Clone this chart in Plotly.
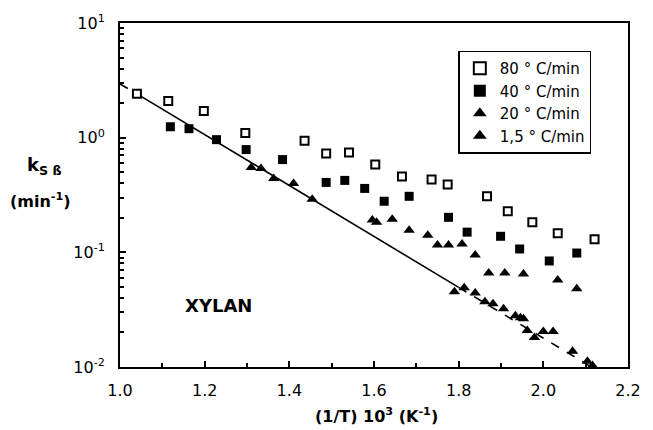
import plotly.graph_objects as go

# ---- data ----
x_80 = [1.040, 1.114, 1.198, 1.296, 1.436, 1.487, 1.541, 1.603, 1.666, 1.736, 1.774, 1.867, 1.916, 1.974, 2.034, 2.121]
k_80 = [2.41, 2.09, 1.71, 1.10, 0.94, 0.726, 0.741, 0.583, 0.459, 0.432, 0.391, 0.308, 0.228, 0.183, 0.147, 0.130]

x_40 = [1.119, 1.163, 1.228, 1.298, 1.384, 1.487, 1.531, 1.578, 1.624, 1.683, 1.776, 1.820, 1.899, 1.944, 2.014, 2.079]
k_40 = [1.245, 1.197, 0.961, 0.787, 0.644, 0.407, 0.424, 0.361, 0.279, 0.308, 0.202, 0.150, 0.138, 0.107, 0.0841, 0.0986]

x_20 = [1.310, 1.333, 1.363, 1.410, 1.454, 1.596, 1.606, 1.643, 1.683, 1.727, 1.750, 1.776, 1.808, 1.839, 1.871, 1.909, 1.953, 2.034, 2.079]
k_20 = [0.549, 0.538, 0.441, 0.399, 0.290, 0.191, 0.183, 0.194, 0.156, 0.141, 0.116, 0.116, 0.118, 0.0948, 0.0661, 0.0661, 0.0648, 0.0575, 0.0481]

x_15 = [1.790, 1.813, 1.839, 1.862, 1.881, 1.906, 1.934, 1.946, 1.953, 1.962, 1.979, 2.000, 2.023, 2.069, 2.104, 2.116]
k_15 = [0.0453, 0.0490, 0.0443, 0.0371, 0.0356, 0.0322, 0.0280, 0.0269, 0.0264, 0.0208, 0.0181, 0.0204, 0.0204, 0.0137, 0.0112, 0.0103]

# fitted Arrhenius line (dashed extrapolations, solid middle)
fit_dash1_x = [1.0, 1.04]
fit_dash1_k = [2.94, 2.41]
fit_solid_x = [1.04, 1.80]
fit_solid_k = [2.41, 0.0495]
fit_dash2_x = [1.80, 2.12]
fit_dash2_k = [0.0495, 0.00968]

legend_names = ["80 ° C/min", "40 ° C/min", "20 ° C/min", "1,5 ° C/min"]

x_ticks = [1.0, 1.2, 1.4, 1.6, 1.8, 2.0, 2.2]
x_ticktext = ["1.0", "1.2", "1.4", "1.6", "1.8", "2.0", "2.2"]
y_ticks = [0.01, 0.1, 1, 10]
y_ticktext = ["10<sup>-2</sup>", "10<sup>-1</sup>", "10<sup>0</sup>", "10<sup>1</sup>"]

FONT = "DejaVu Sans, Liberation Sans, Arial, sans-serif"

fig = go.Figure()

for fx, fk, dash in [(fit_dash1_x, fit_dash1_k, "dash"),
                     (fit_solid_x, fit_solid_k, "solid"),
                     (fit_dash2_x, fit_dash2_k, "dash")]:
    fig.add_trace(go.Scatter(x=fx, y=fk, mode="lines", showlegend=False,
                             line=dict(color="black", width=1.6, dash=dash),
                             hoverinfo="skip"))

fig.add_trace(go.Scatter(x=x_80, y=k_80, mode="markers", name=legend_names[0],
                         marker=dict(symbol="square", size=8, color="white",
                                     line=dict(color="black", width=2))))
fig.add_trace(go.Scatter(x=x_40, y=k_40, mode="markers", name=legend_names[1],
                         marker=dict(symbol="square", size=9, color="black",
                                     line=dict(color="black", width=0))))
fig.add_trace(go.Scatter(x=x_20, y=k_20, mode="markers", name=legend_names[2],
                         marker=dict(symbol="triangle-up", size=10, color="black",
                                     line=dict(color="black", width=0))))
fig.add_trace(go.Scatter(x=x_15, y=k_15, mode="markers", name=legend_names[3],
                         marker=dict(symbol="triangle-up", size=10, color="black",
                                     line=dict(color="black", width=0))))

fig.update_traces(cliponaxis=False, selector=dict(mode="markers"))

x_minor = [1.1, 1.3, 1.5, 1.7, 1.9, 2.1]
y_minor = [m * 10 ** e for e in (-2, -1, 0) for m in range(2, 10)]

fig.update_layout(
    width=653, height=430,
    margin=dict(l=120, r=18, t=21, b=63),
    paper_bgcolor="white", plot_bgcolor="white",
    font=dict(family=FONT, size=15, color="black"),
    showlegend=True,
    legend=dict(x=0.666, y=0.92, xanchor="left", yanchor="top",
                bordercolor="black", borderwidth=1.5, bgcolor="white",
                font=dict(family=FONT, size=15, color="black"),
                tracegroupgap=0, itemsizing="constant"),
    xaxis=dict(range=[1.0, 2.2], tickmode="array", tickvals=x_ticks, ticktext=x_ticktext,
               ticks="inside", ticklen=6, tickwidth=1.5, tickcolor="black",
               showline=True, linecolor="black", linewidth=2, mirror=True,
               showgrid=False, zeroline=False, ticklabelstandoff=8,
               tickfont=dict(family=FONT, size=16),
               minor=dict(tickmode="array", tickvals=x_minor, ticks="inside",
                          ticklen=4, tickcolor="black", showgrid=False)),
    yaxis=dict(type="log", range=[-2, 1], tickmode="array", tickvals=y_ticks, ticktext=y_ticktext,
               ticks="inside", ticklen=6, tickwidth=1.5, tickcolor="black",
               showline=True, linecolor="black", linewidth=2, mirror=True,
               showgrid=False, zeroline=False, ticklabelstandoff=10,
               tickfont=dict(family=FONT, size=16),
               minor=dict(tickmode="array", tickvals=y_minor, ticks="inside",
                          ticklen=4, tickcolor="black", showgrid=False)),
)

fig.add_annotation(text="<b>k<sub>S ß</sub></b>", xref="paper", yref="paper",
                   x=-0.148, y=0.584, showarrow=False, xanchor="center", yanchor="middle",
                   font=dict(family=FONT, size=18))
fig.add_annotation(text="<b>(min<sup>-1</sup>)</b>", xref="paper", yref="paper",
                   x=-0.157, y=0.483, showarrow=False, xanchor="center", yanchor="middle",
                   font=dict(family=FONT, size=16))
fig.add_annotation(text="<b>(1/T) 10<sup>3</sup> (K<sup>-1</sup>)</b>", xref="paper", yref="paper",
                   x=0.505, y=-0.105, showarrow=False, xanchor="center", yanchor="top",
                   font=dict(family=FONT, size=16))
fig.add_annotation(text="<b>XYLAN</b>", xref="x", yref="paper",
                   x=1.233, y=0.179, showarrow=False, xanchor="center", yanchor="middle",
                   font=dict(family=FONT, size=18))

fig.write_html("out.html")
